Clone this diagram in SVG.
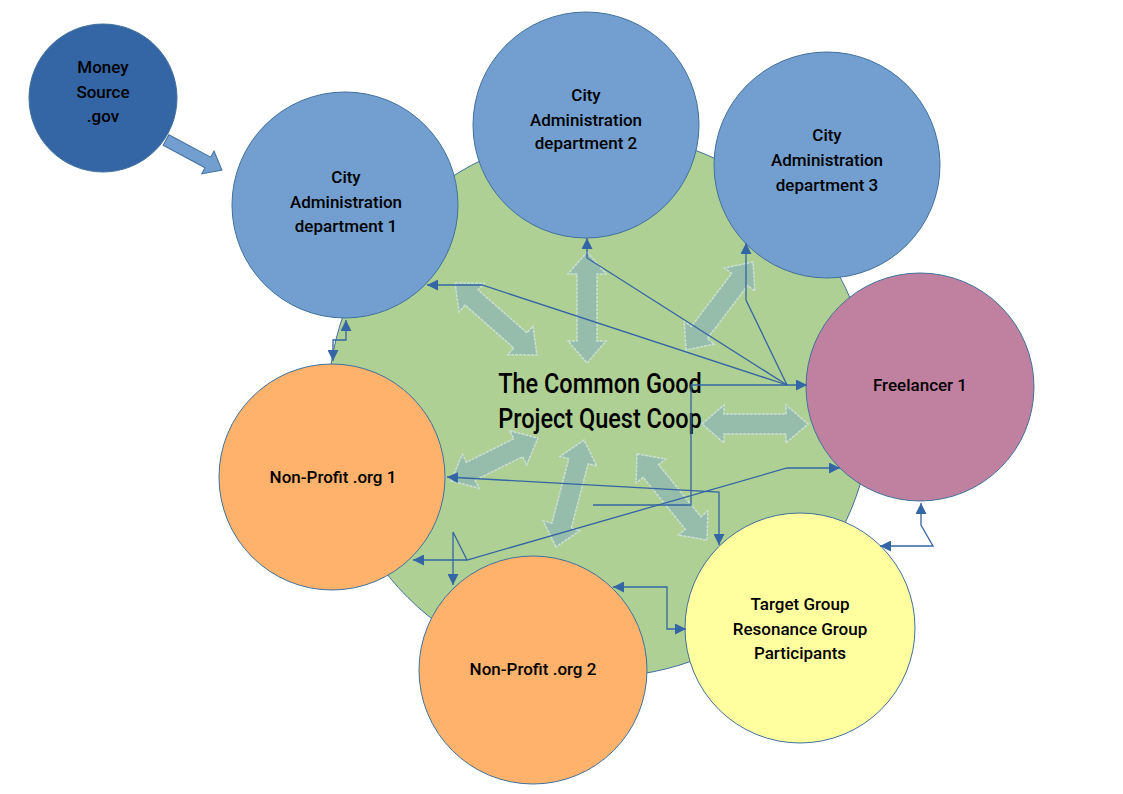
<svg xmlns="http://www.w3.org/2000/svg" width="1123" height="794" viewBox="0 0 1123 794">
<defs>
<style>
.node{stroke:#41719c;stroke-width:1}
.lbl{font-family:Roboto,"Liberation Sans",sans-serif;font-weight:500;font-size:17px;fill:#000;text-anchor:middle}
.title{font-family:Roboto,"Liberation Sans",sans-serif;font-weight:500;font-size:28px;fill:#000;text-anchor:middle}
.dbl{fill:#96bdac;stroke:#cbdfd4;stroke-width:1.5;stroke-dasharray:3 1}
.conn{fill:none;stroke:#3465a4;stroke-width:1.3}
</style>
<marker id="ah" viewBox="0 0 10 10" refX="10" refY="5" markerWidth="11" markerHeight="11" markerUnits="userSpaceOnUse" orient="auto-start-reverse">
<path d="M0,0 L10,5 L0,10 Z" fill="#3465a4"/>
</marker>
</defs>
<rect width="1123" height="794" fill="#fff"/>

<g id="coop">
<circle class="node" cx="600" cy="405" r="272" fill="#afd095"/>
</g>
<g id="money">
<circle class="node" cx="103" cy="98" r="74" fill="#3465a4"/>
<text class="lbl" x="103"><tspan x="103" y="73">Money</tspan><tspan x="103" y="98">Source</tspan><tspan x="103" y="122">.gov</tspan></text>
</g>
<g id="dept1">
<circle class="node" cx="345" cy="205" r="113" fill="#729fcf"/>
<text class="lbl"><tspan x="346" y="183">City</tspan><tspan x="346" y="208">Administration</tspan><tspan x="346" y="232">department 1</tspan></text>
</g>
<g id="dept2">
<circle class="node" cx="586" cy="125" r="113" fill="#729fcf"/>
<text class="lbl"><tspan x="586" y="101">City</tspan><tspan x="586" y="126">Administration</tspan><tspan x="586" y="149">department 2</tspan></text>
</g>
<g id="dept3">
<circle class="node" cx="827" cy="165" r="113" fill="#729fcf"/>
<text class="lbl"><tspan x="827" y="141">City</tspan><tspan x="827" y="166">Administration</tspan><tspan x="827" y="191">department 3</tspan></text>
</g>
<g id="freelancer">
<circle class="node" cx="920" cy="387" r="114" fill="#c0809f"/>
<text class="lbl" x="920" y="391">Freelancer 1</text>
</g>
<g id="np1">
<circle class="node" cx="332" cy="477" r="113" fill="#ffb26b"/>
<text class="lbl" x="333" y="483">Non-Profit .org  1</text>
</g>
<g id="np2">
<circle class="node" cx="533" cy="670" r="114" fill="#ffb26b"/>
<text class="lbl" x="533" y="675">Non-Profit .org  2</text>
</g>
<g id="target">
<circle class="node" cx="800" cy="628" r="115" fill="#ffffa0"/>
<text class="lbl"><tspan x="800" y="610">Target Group</tspan><tspan x="800" y="635">Resonance Group</tspan><tspan x="800" y="659">Participants</tspan></text>
</g>

<g id="flows">
<path d="M0,-6 L47.5,-6 L47.5,-13 L63.5,0 L47.5,13 L47.5,6 L0,6 Z" transform="translate(166,140) rotate(28.2)" fill="#729fcf" stroke="#41719c" stroke-width="1"/>
<path class="dbl" d="M-54.5,0 L-32.5,-19 L-32.5,-10 L32.5,-10 L32.5,-19 L54.5,0 L32.5,19 L32.5,10 L-32.5,10 L-32.5,19 Z" transform="translate(496,319) rotate(41.3)"/>
<path class="dbl" d="M-55.5,0 L-33.5,-19 L-33.5,-10 L33.5,-10 L33.5,-19 L55.5,0 L33.5,19 L33.5,10 L-33.5,10 L-33.5,19 Z" transform="translate(587,307.5) rotate(90)"/>
<path class="dbl" d="M-55.3,0 L-33.3,-19 L-33.3,-10 L33.3,-10 L33.3,-19 L55.3,0 L33.3,19 L33.3,10 L-33.3,10 L-33.3,19 Z" transform="translate(719.5,306) rotate(-52.7)"/>
<path class="dbl" d="M-53,0 L-31,-19 L-31,-10 L31,-10 L31,-19 L53,0 L31,19 L31,10 L-31,10 L-31,19 Z" transform="translate(755,424)"/>
<path class="dbl" d="M-48.5,0 L-26.5,-19 L-26.5,-10 L26.5,-10 L26.5,-19 L48.5,0 L26.5,19 L26.5,10 L-26.5,10 L-26.5,19 Z" transform="translate(494.5,459.5) rotate(-26.3)"/>
<path class="dbl" d="M-55.3,0 L-33.3,-19 L-33.3,-10 L33.3,-10 L33.3,-19 L55.3,0 L33.3,19 L33.3,10 L-33.3,10 L-33.3,19 Z" transform="translate(570,493.5) rotate(-75.3)"/>
<path class="dbl" d="M-55.5,0 L-33.5,-19 L-33.5,-10 L33.5,-10 L33.5,-19 L55.5,0 L33.5,19 L33.5,10 L-33.5,10 L-33.5,19 Z" transform="translate(672,497) rotate(50.9)"/>
</g>

<g id="coop-label">
<text class="title" transform="translate(600,0) scale(0.84,1)"><tspan x="0" y="393">The Common Good</tspan><tspan x="0" y="428">Project Quest Coop</tspan></text>
</g>

<g id="connectors">
<path class="conn" d="M346,320 L346,340 L333,340 L333,361" marker-start="url(#ah)" marker-end="url(#ah)"/>
<path class="conn" d="M787,385 L482,285 L427,285" marker-end="url(#ah)"/>
<path class="conn" d="M787,385 L587,258 L587,238" marker-end="url(#ah)"/>
<path class="conn" d="M787,385 L746,300 L746,243" marker-end="url(#ah)"/>
<path class="conn" d="M593,505 L691,505 L691,385 L807,385" marker-end="url(#ah)"/>
<path class="conn" d="M447,477 L719,492 L719,545" marker-start="url(#ah)" marker-end="url(#ah)"/>
<path class="conn" d="M840,468 L787,468 L467,560 L413,560" marker-start="url(#ah)" marker-end="url(#ah)"/>
<path class="conn" d="M467,560 L453,532 L453,585" marker-end="url(#ah)"/>
<path class="conn" d="M613,587 L667,587 L667,629 L686,629" marker-start="url(#ah)" marker-end="url(#ah)"/>
<path class="conn" d="M921,503 L921,525 L933,546 L880,546" marker-start="url(#ah)" marker-end="url(#ah)"/>
</g>
</svg>
